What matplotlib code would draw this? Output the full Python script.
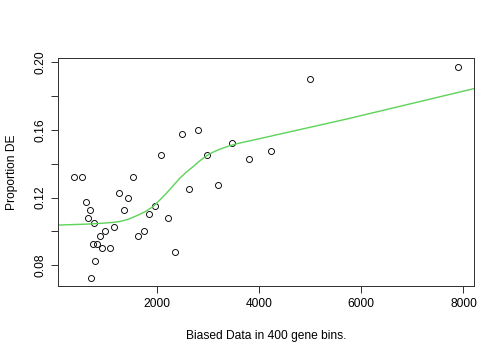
import matplotlib
matplotlib.use('Agg')
import matplotlib.pyplot as plt
import numpy as np

# Points: bin size vs proportion DE
bias_x = [382, 544, 1542, 1262, 1444, 2638, 3194, 611, 689, 1354, 1973, 1855,
          650, 773, 2215, 1164, 994, 1751, 885, 1640, 748, 845, 924, 1080,
          2352, 806, 714, 7896, 4994, 2802, 2495, 2090, 2984, 3468, 4237, 3800]
prop_de = [0.1324, 0.1324, 0.1324, 0.1224, 0.1200, 0.1250, 0.1275, 0.1175,
           0.1125, 0.1125, 0.1151, 0.1102, 0.1076, 0.1052, 0.1076, 0.1025,
           0.1001, 0.1001, 0.0975, 0.0975, 0.0926, 0.0926, 0.0901, 0.0901,
           0.0877, 0.0827, 0.0727, 0.1972, 0.1898, 0.1601, 0.1575, 0.1449,
           0.1449, 0.1525, 0.1476, 0.1425]

# Fitted curve
fit_x = [75, 661, 988, 1150, 1282, 1450, 1609, 1780, 1933, 2060, 2195, 2330,
         2456, 2590, 2716, 2850, 2978, 3110, 3239, 3420, 3597, 4000, 5718, 8196]
fit_y = [0.1037, 0.1043, 0.1049, 0.1053, 0.1058, 0.1072, 0.1092, 0.1117,
         0.1147, 0.1184, 0.1226, 0.1272, 0.1315, 0.1352, 0.1383, 0.1418,
         0.1447, 0.1469, 0.1486, 0.1505, 0.1520, 0.1547, 0.1664, 0.1843]

plt.rcParams['font.family'] = ['Liberation Sans', 'DejaVu Sans']
plt.rcParams['font.size'] = 12

fig = plt.figure(figsize=(7, 5), dpi=72)
ax = fig.add_axes([0.116, 0.2056, 0.8235, 0.632])

ax.plot(bias_x, prop_de, 'o', mfc='none', mec='black', ms=6, mew=0.9)
ax.plot(fit_x, fit_y, color='#5ED35A', lw=1.4)

ax.set_xlim(82, 8196)
ax.set_ylim(0.0677, 0.2022)
ax.set_xticks([2000, 4000, 6000, 8000])
yt = [0.08, 0.10, 0.12, 0.14, 0.16, 0.18, 0.20]
ax.set_yticks(yt)
ax.set_yticklabels(['0.08', '', '0.12', '', '0.16', '', '0.20'],
                   rotation=90, va='center')
ax.tick_params(length=7, width=1, color='#333333', pad=5, labelsize=12)
for s in ax.spines.values():
    s.set_linewidth(1)
    s.set_color('#333333')

ax.set_xlabel('Biased Data in 400 gene bins.', labelpad=20)
ax.set_ylabel('Proportion DE', labelpad=16)

fig.savefig('out.png', dpi=72)
